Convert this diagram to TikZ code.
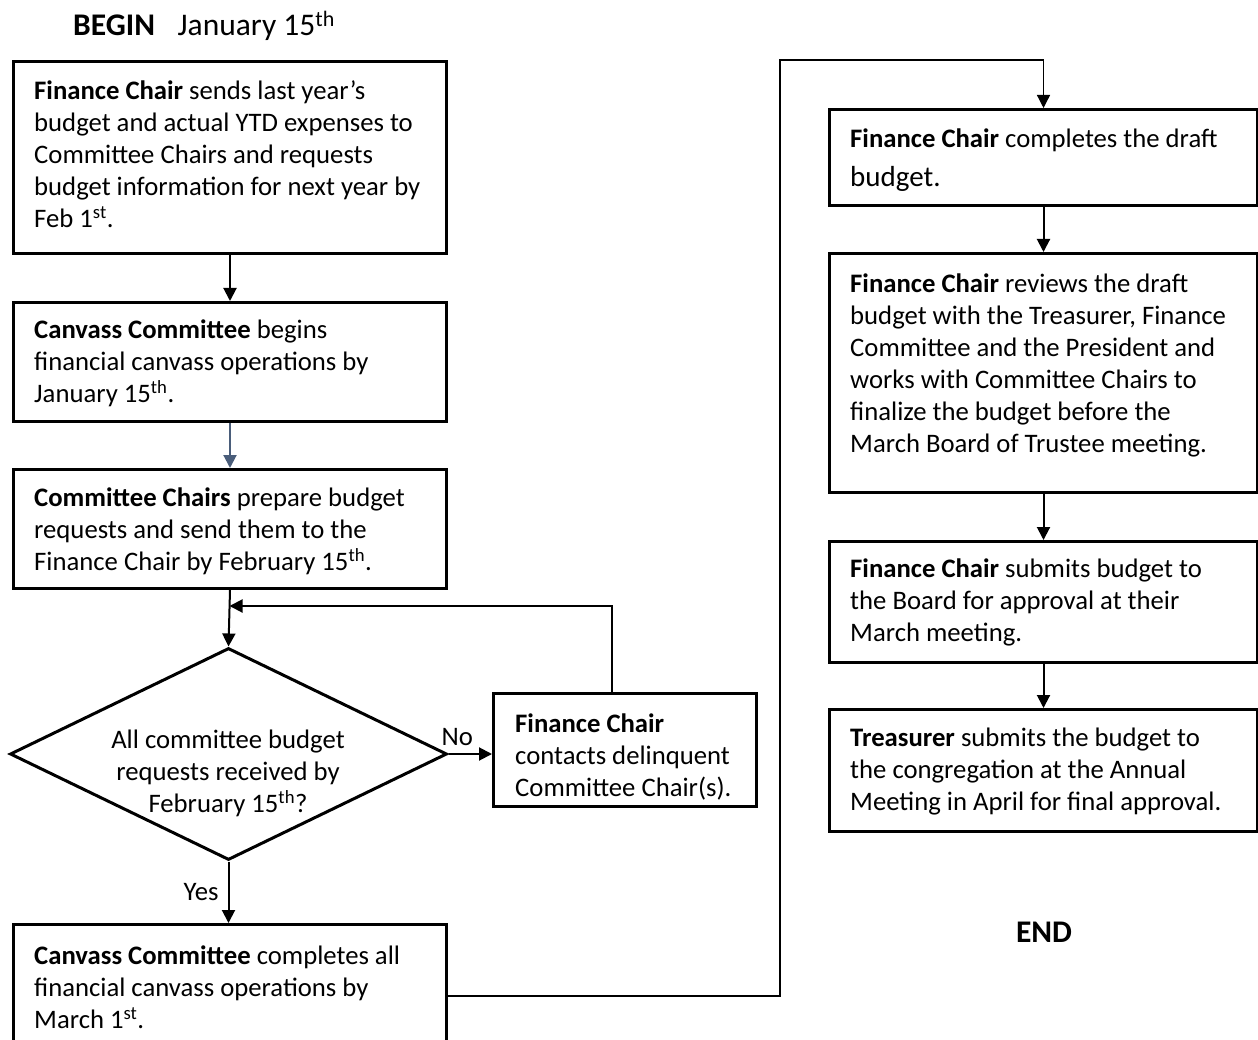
\documentclass[tikz,border=0pt]{standalone}
\usepackage{fontspec}
\setmainfont{Carlito}
\usetikzlibrary{arrows.meta,shapes.geometric,calc}
\definecolor{slate}{RGB}{74,93,122}
\tikzset{
  box/.style={draw, line width=3pt, rectangle, inner sep=0pt, anchor=north west},
  txt/.style={anchor=north west, inner sep=0pt, align=left, font=\fontsize{26.7}{32}\selectfont},
  lbl/.style={inner sep=0pt, font=\fontsize{26.7}{32}\selectfont},
  ttl/.style={inner sep=0pt, font=\fontsize{31.5}{36}\selectfont},
  conn/.style={line width=2pt, -{Triangle[length=13pt,width=13pt]}},
  thinconn/.style={line width=1.3pt},
}
\begin{document}
\begin{tikzpicture}[x=1pt,y=-1pt]
\useasboundingbox (0,0) rectangle (1258,1040);
% title
\node[ttl, anchor=west] (begin) at (73,26) {\textbf{BEGIN}\hspace{0.72em}January 15\textsuperscript{th}};
% left column boxes
\node[box, minimum width=433pt, minimum height=192pt] (b1) at (12,60) {};
\node[txt] (t1) at (34,80.5) {\textbf{Finance Chair} sends last year’s\\budget and actual YTD expenses to\\Committee Chairs and requests\\budget information for next year by\\Feb 1\textsuperscript{st}.};
\node[box, minimum width=433pt, minimum height=119pt] (b2) at (12,301) {};
\node[txt] (t2) at (34,319.5) {\textbf{Canvass Committee} begins\\financial canvass operations by\\January 15\textsuperscript{th}.};
\node[box, minimum width=433pt, minimum height=119pt] (b3) at (12,468) {};
\node[txt] (t3) at (34,487.5) {\textbf{Committee Chairs} prepare budget\\requests and send them to the\\Finance Chair by February 15\textsuperscript{th}.};
\node[draw, diamond, line width=3pt, inner sep=0pt, minimum width=437pt, minimum height=212pt] (d) at (228.5,754) {};
\node[lbl, align=center] (dt) at (228,773) {All committee budget\\requests received by\\February 15\textsuperscript{th}?};
\node[box, minimum width=263pt, minimum height=113pt] (cb) at (492,692) {};
\node[txt] (ct) at (515,713.5) {\textbf{Finance Chair}\\contacts delinquent\\Committee Chair(s).};
\node[box, minimum width=433pt, minimum height=200pt] (b4) at (12,923) {};
\node[txt] (t4) at (34,945.5) {\textbf{Canvass Committee} completes all\\financial canvass operations by\\March 1\textsuperscript{st}.};
% right column boxes
\node[box, minimum width=428pt, minimum height=96pt] (b5) at (828,108) {};
\node[txt] (t5) at (850,128.5) {\textbf{Finance Chair} completes the draft\\[7pt]{\fontsize{29}{36}\selectfont budget.}};
\node[box, minimum width=428pt, minimum height=239pt] (b6) at (828,252) {};
\node[txt] (t6) at (850,273.5) {\textbf{Finance Chair} reviews the draft\\budget with the Treasurer, Finance\\Committee and the President and\\works with Committee Chairs to\\finalize the budget before the\\March Board of Trustee meeting.};
\node[box, minimum width=428pt, minimum height=121pt] (b7) at (828,540) {};
\node[txt] (t7) at (850,558.5) {\textbf{Finance Chair} submits budget to\\the Board for approval at their\\March meeting.};
\node[box, minimum width=428pt, minimum height=122pt] (b8) at (828,708) {};
\node[txt] (t8) at (850,727.5) {\textbf{Treasurer} submits the budget to\\the congregation at the Annual\\Meeting in April for final approval.};
\node[ttl] (end) at (1044,932) {\textbf{END}};
% connectors
\draw[conn] (b1.south) -- (b2.north);
\draw[conn, slate] (b2.south) -- (b3.north);
\draw[conn] (b3.south) -- (d.north);
\coordinate (fbtop) at (612,692);
\coordinate (fbjoin) at (229.5,606);
\draw[conn] (fbtop) |- (fbjoin);
\draw[conn] (d.east) -- (d.east -| cb.west) node[lbl, pos=0.2, above=7pt] (no) {No};
\draw[conn] (d.south) -- (d.south |- b4.north) node[lbl, pos=0.5, left=9pt] (yes) {Yes};
\coordinate (r1) at (780,996);
\coordinate (r2) at (780,60);
\coordinate (r3) at (b5.north |- r2);
\draw[thinconn] (b4.east |- r1) -- (r1) -- (r2) -- (r3);
\draw[thinconn, -{Triangle[length=13pt,width=13pt]}] (r3) -- (b5.north);
\draw[conn] (b5.south) -- (b6.north);
\draw[conn] (b6.south) -- (b7.north);
\draw[conn] (b7.south) -- (b8.north);
\end{tikzpicture}
\end{document}
